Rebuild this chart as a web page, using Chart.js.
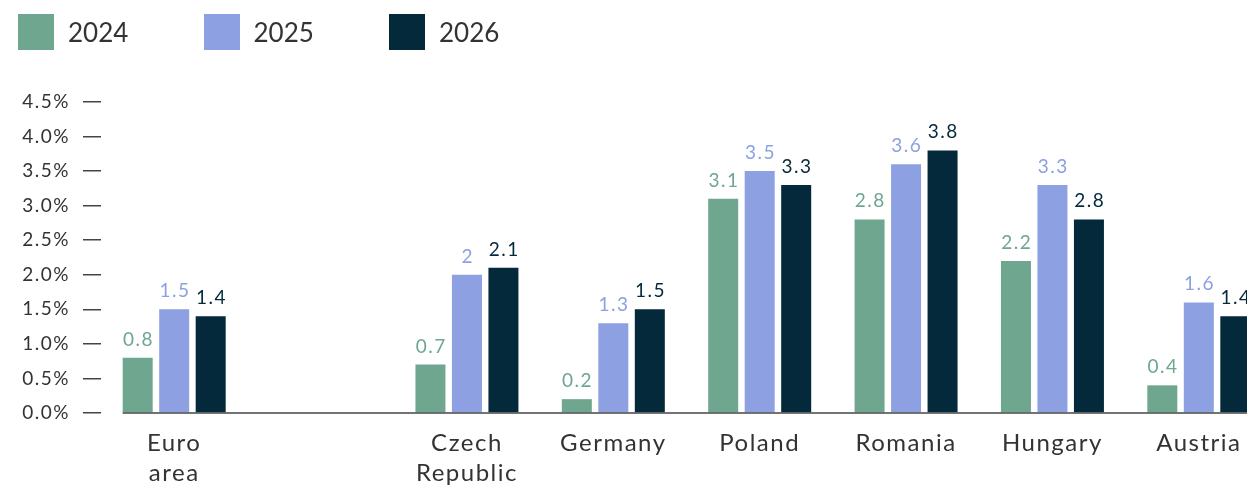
<!DOCTYPE html>
<html>
<head>
<meta charset="utf-8">
<script src="https://cdn.jsdelivr.net/npm/chart.js@4/dist/chart.umd.min.js"></script>
<style>
  html, body { margin: 0; padding: 0; background: #fff; overflow: hidden; }
  .wrap { position: relative; width: 1272px; height: 485px; }
  .legend { position: absolute; left: 18px; top: 14px; display: flex; font-family: Lato, sans-serif; font-size: 26px; color: #333; }
  .legend .item { display: flex; align-items: center; width: 185.5px; }
  .legend .box { width: 36px; height: 36px; margin-right: 14px; }
</style>
</head>
<body>
<div class="wrap">
  <canvas id="growthChart"></canvas>
  <div class="legend" id="legend"></div>
</div>
<script>
// ==================== GDP GROWTH ====================

const categories = [['Euro', 'area'], '', ['Czech', 'Republic'], 'Germany', 'Poland', 'Romania', 'Hungary', 'Austria'];
const years = ['2024', '2025', '2026'];
const values2024 = [0.8, null, 0.7, 0.2, 3.1, 2.8, 2.2, 0.4];
const values2025 = [1.5, null, 2, 1.3, 3.5, 3.6, 3.3, 1.6];
const values2026 = [1.4, null, 2.1, 1.5, 3.3, 3.8, 2.8, 1.4];
const yTicks = [0, 0.5, 1, 1.5, 2, 2.5, 3, 3.5, 4, 4.5];

const colors = ['#6FA68F', '#8CA0E2', '#03293A'];
const FONT = 'Lato, "Noto Sans", sans-serif';

// slightly wider tracking for all canvas text
const tracking = {
  id: 'tracking',
  beforeDraw(chart) {
    chart.ctx.letterSpacing = '1.5px';
  }
};

// value labels above each bar, in the bar's own colour
const valueLabels = {
  id: 'valueLabels',
  afterDatasetsDraw(chart) {
    const ctx = chart.ctx;
    ctx.save();
    ctx.font = '19px ' + FONT;
    ctx.textAlign = 'center';
    ctx.textBaseline = 'alphabetic';
    chart.data.datasets.forEach((ds, i) => {
      chart.getDatasetMeta(i).data.forEach((bar, j) => {
        const v = ds.data[j];
        if (v === null) return;
        ctx.fillStyle = ds.backgroundColor;
        ctx.fillText(String(v), bar.x + 0.75, bar.y - 12);
      });
    });
    ctx.restore();
  }
};

// baseline starting under the first bar
const baseline = {
  id: 'baseline',
  afterDatasetsDraw(chart) {
    const first = chart.getDatasetMeta(0).data[0];
    const y = chart.scales.y.getPixelForValue(0);
    const ctx = chart.ctx;
    ctx.save();
    ctx.strokeStyle = '#444';
    ctx.lineWidth = 1.5;
    ctx.beginPath();
    ctx.moveTo(first.x - first.width / 2, y);
    ctx.lineTo(chart.chartArea.right, y);
    ctx.stroke();
    ctx.restore();
  }
};

const datasets = [values2024, values2025, values2026].map((data, i) => ({
  label: years[i],
  data,
  backgroundColor: colors[i],
  borderWidth: 0,
  categoryPercentage: 0.748,
  barPercentage: 0.822
}));

// html legend
const legendEl = document.getElementById('legend');
years.forEach((y, i) => {
  const item = document.createElement('div');
  item.className = 'item';
  item.innerHTML = '<span class="box" style="background:' + colors[i] + '"></span><span>' + y + '</span>';
  legendEl.appendChild(item);
});

new Chart(document.getElementById('growthChart'), {
  type: 'bar',
  data: { labels: categories, datasets },
  options: {
    responsive: true,
    maintainAspectRatio: false,
    animation: false,
    layout: { padding: { top: 102, left: 0, right: 0, bottom: 0 } },
    plugins: {
      legend: { display: false },
      tooltip: { enabled: false }
    },
    scales: {
      x: {
        grid: { display: false },
        border: { display: false },
        ticks: { color: '#333', font: { family: FONT, size: 24, lineHeight: 1.22 }, padding: 8, maxRotation: 0, autoSkip: false },
        afterFit: (s) => { s.height = 72; }
      },
      y: {
        min: 0,
        max: 4.5,
        afterBuildTicks: (s) => { s.ticks = yTicks.map(v => ({ value: v })); },
        grid: { drawOnChartArea: false, drawTicks: true, tickLength: 18, color: '#444', lineWidth: 1.5 },
        border: { display: false },
        ticks: {
          color: '#333',
          padding: 13,
          font: { family: FONT, size: 19 },
          callback: (v) => v.toFixed(1) + '%'
        },
        afterFit: (s) => { s.width = 101; }
      }
    }
  },
  plugins: [tracking, valueLabels, baseline]
});
</script>
</body>
</html>
